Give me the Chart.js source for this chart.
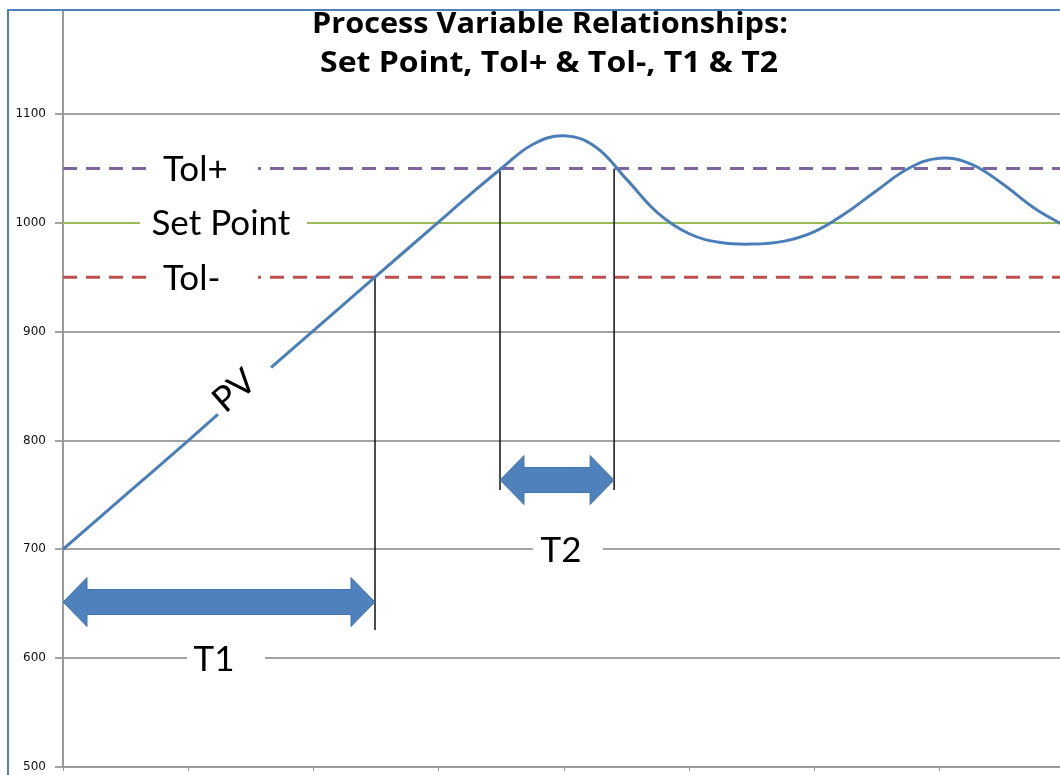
<!DOCTYPE html>
<html>
<head>
<meta charset="utf-8">
<script src="https://cdn.jsdelivr.net/npm/chart.js@4.4.1/dist/chart.umd.min.js"></script>
<style>
  html, body { margin: 0; padding: 0; background: #fff; overflow: hidden; }
  #wrap { width: 1065px; height: 775px; }
</style>
</head>
<body>
<div id="wrap"><canvas id="c" width="1065" height="775"></canvas></div>
<script>
// ---- data ----
const titleLines = ['Process Variable Relationships:', 'Set Point, Tol+ & Tol-, T1 & T2'];
const yTicks = [500, 600, 700, 800, 900, 1000, 1100];
const xTicks = [0, 1, 2, 3, 4, 5, 6, 7, 8];
const pvX = [0, 0.5, 1, 1.5, 2, 2.5, 3, 3.25, 3.5, 3.75, 4, 4.25, 4.5, 4.75, 5, 5.25, 5.5, 5.75, 6, 6.25, 6.5, 6.75, 7, 7.25, 7.5, 7.75, 8];
const pvY = [700, 750, 800, 851, 901, 951, 1001, 1026, 1050, 1072, 1080, 1070, 1040, 1009, 990, 982, 980.5, 983, 992, 1009, 1030, 1050, 1059.5, 1054, 1036, 1014, 997];
const setPoint = 1000;
const tolPlus = 1050;
const tolMinus = 950;
const t1X = [0, 2.491];
const t2X = [3.489, 4.40];
const t1LineBottom = 626;
const t2LineBottom = 754.5;
const t1ArrowY = 651.6;
const t2ArrowY = 763.7;

// ---- label placement (data coordinates) ----
const textLabels = [
  { text: 'Tol+', x: 0.798, y: tolPlus, align: 'left', gap: [0.671, 1.557] },
  { text: 'Set Point', x: 1.261, y: setPoint, align: 'center', gap: [0.615, 1.948] },
  { text: 'Tol-', x: 0.798, y: tolMinus, align: 'left', gap: [0.671, 1.557] },
  { text: 'T1', x: 1.206, y: 600, align: 'center', gap: [0.99, 1.613] },
  { text: 'T2', x: 3.976, y: 700, align: 'center', gap: [3.752, 4.311] }
];
const pvLabel = { text: 'PV', gap: [1.2375, 1.661] };

function pts(xs, ys) { return xs.map((v, i) => ({ x: v, y: ys[i] })); }
function interpPV(xv) {
  for (let i = 0; i < pvX.length - 1; i++) {
    if (xv >= pvX[i] && xv <= pvX[i + 1]) {
      const t = (xv - pvX[i]) / (pvX[i + 1] - pvX[i]);
      return pvY[i] + t * (pvY[i + 1] - pvY[i]);
    }
  }
  return pvY[pvY.length - 1];
}

const LABEL_FONT = '35px Lato, "Open Sans", sans-serif';

function doubleArrow(ctx, x0, x1, yc) {
  const headLen = 24, headH = 24.5, shaftH = 12.5;
  ctx.beginPath();
  ctx.moveTo(x0, yc);
  ctx.lineTo(x0 + headLen, yc - headH);
  ctx.lineTo(x0 + headLen, yc - shaftH);
  ctx.lineTo(x1 - headLen, yc - shaftH);
  ctx.lineTo(x1 - headLen, yc - headH);
  ctx.lineTo(x1, yc);
  ctx.lineTo(x1 - headLen, yc + headH);
  ctx.lineTo(x1 - headLen, yc + shaftH);
  ctx.lineTo(x0 + headLen, yc + shaftH);
  ctx.lineTo(x0 + headLen, yc + headH);
  ctx.closePath();
  ctx.fillStyle = '#4f81bd';
  ctx.fill();
  ctx.strokeStyle = '#4374ad';
  ctx.lineWidth = 1;
  ctx.stroke();
}

function fitText(ctx, text, cx, baseline, targetW) {
  const w = ctx.measureText(text).width;
  const sx = targetW / w;
  ctx.save();
  ctx.translate(cx, baseline);
  ctx.scale(sx, 1);
  ctx.textAlign = 'center';
  ctx.fillText(text, 0, 0);
  ctx.restore();
}

function noPad(s) { s.paddingTop = 0; s.paddingBottom = 0; s.paddingLeft = 0; s.paddingRight = 0; }

const overlay = {
  id: 'overlay',
  beforeDraw(chart) {
    const ctx = chart.ctx;
    ctx.save();
    ctx.fillStyle = '#fff';
    ctx.fillRect(0, 0, chart.width, chart.height);
    ctx.restore();
  },
  afterDatasetsDraw(chart) {
    const { ctx, scales: { x, y } } = chart;
    ctx.save();
    textLabels.forEach(l => {
      const yp = y.getPixelForValue(l.y);
      const g0 = x.getPixelForValue(l.gap[0]);
      const g1 = x.getPixelForValue(l.gap[1]);
      ctx.fillStyle = '#fff';
      ctx.fillRect(g0, yp - 5, g1 - g0, 10);
      ctx.fillStyle = '#000';
      ctx.font = LABEL_FONT;
      ctx.textAlign = l.align;
      ctx.textBaseline = 'alphabetic';
      ctx.fillText(l.text, x.getPixelForValue(l.x), yp + 12.5);
    });
    const ax = x.getPixelForValue(pvLabel.gap[0]), ay = y.getPixelForValue(interpPV(pvLabel.gap[0]));
    const bx = x.getPixelForValue(pvLabel.gap[1]), by = y.getPixelForValue(interpPV(pvLabel.gap[1]));
    const ang = Math.atan2(by - ay, bx - ax);
    const len = Math.hypot(bx - ax, by - ay);
    ctx.translate((ax + bx) / 2, (ay + by) / 2);
    ctx.rotate(ang);
    ctx.fillStyle = '#fff';
    ctx.fillRect(-len / 2, -4, len, 8);
    ctx.fillStyle = '#000';
    ctx.font = LABEL_FONT;
    ctx.textAlign = 'center';
    ctx.textBaseline = 'alphabetic';
    ctx.fillText(pvLabel.text, -7.6, -7.3 + 12);
    ctx.setTransform(1, 0, 0, 1, 0, 0);
    doubleArrow(ctx, x.getPixelForValue(t1X[0]), x.getPixelForValue(t1X[1]), y.getPixelForValue(t1ArrowY));
    doubleArrow(ctx, x.getPixelForValue(t2X[0]), x.getPixelForValue(t2X[1]), y.getPixelForValue(t2ArrowY));
    ctx.restore();
  },
  afterDraw(chart) {
    const ctx = chart.ctx;
    ctx.save();
    ctx.fillStyle = '#000';
    ctx.font = 'bold 28px "Open Sans", Lato, sans-serif';
    ctx.textBaseline = 'alphabetic';
    fitText(ctx, titleLines[0], 550, 33, 476);
    fitText(ctx, titleLines[1], 549, 72, 458);
    ctx.strokeStyle = '#4f81bd';
    ctx.lineWidth = 2;
    ctx.beginPath();
    ctx.moveTo(8, chart.height);
    ctx.lineTo(8, 10);
    ctx.lineTo(chart.width, 10);
    ctx.stroke();
    ctx.restore();
  }
};

const ctx = document.getElementById('c').getContext('2d');
new Chart(ctx, {
  type: 'line',
  data: {
    datasets: [
      { label: 'PV', data: pts(pvX, pvY), borderColor: '#4a7ebb', borderWidth: 3, pointRadius: 0, tension: 0.4, fill: false },
      { label: 'T1 line', data: [{ x: t1X[1], y: t1LineBottom }, { x: t1X[1], y: tolMinus }], borderColor: '#111', borderWidth: 1.5, pointRadius: 0 },
      { label: 'T2 start', data: [{ x: t2X[0], y: t2LineBottom }, { x: t2X[0], y: tolPlus }], borderColor: '#111', borderWidth: 1.5, pointRadius: 0 },
      { label: 'T2 end', data: [{ x: t2X[1], y: t2LineBottom }, { x: t2X[1], y: tolPlus }], borderColor: '#111', borderWidth: 1.5, pointRadius: 0 },
      { label: 'Tol+', data: [{ x: 0, y: tolPlus }, { x: 8, y: tolPlus }], borderColor: '#8064a2', borderWidth: 3, borderDash: [14, 9], pointRadius: 0 },
      { label: 'Set Point', data: [{ x: 0, y: setPoint }, { x: 8, y: setPoint }], borderColor: '#9bbb59', borderWidth: 2, pointRadius: 0 },
      { label: 'Tol-', data: [{ x: 0, y: tolMinus }, { x: 8, y: tolMinus }], borderColor: '#c0504d', borderWidth: 3, borderDash: [14, 9], pointRadius: 0 }
    ]
  },
  options: {
    responsive: false,
    animation: false,
    devicePixelRatio: 1,
    layout: { padding: { top: 11, left: 0, right: 0, bottom: 0 } },
    plugins: { legend: { display: false }, title: { display: false }, tooltip: { enabled: false } },
    scales: {
      x: {
        type: 'linear', min: 0, max: 8,
        afterBuildTicks: s => { s.ticks = xTicks.map(v => ({ value: v })); },
        afterFit: s => { s.height = 8; noPad(s); },
        ticks: { display: false },
        grid: { drawOnChartArea: false, drawTicks: true, tickLength: 4, color: '#9a9a9a', lineWidth: 1 },
        border: { display: true, color: '#9a9a9a', width: 2 }
      },
      y: {
        type: 'linear', min: 500, max: 1194.7,
        afterBuildTicks: s => { s.ticks = yTicks.map(v => ({ value: v })); },
        afterFit: s => { s.width = 63; noPad(s); },
        ticks: { padding: 9, color: '#111', font: { family: 'DejaVu Sans', size: 12 }, callback: v => String(v) },
        grid: { color: '#a3a3a3', lineWidth: 2, tickLength: 8 },
        border: { display: true, color: '#9a9a9a', width: 2 }
      }
    }
  },
  plugins: [overlay]
});
</script>
</body>
</html>
